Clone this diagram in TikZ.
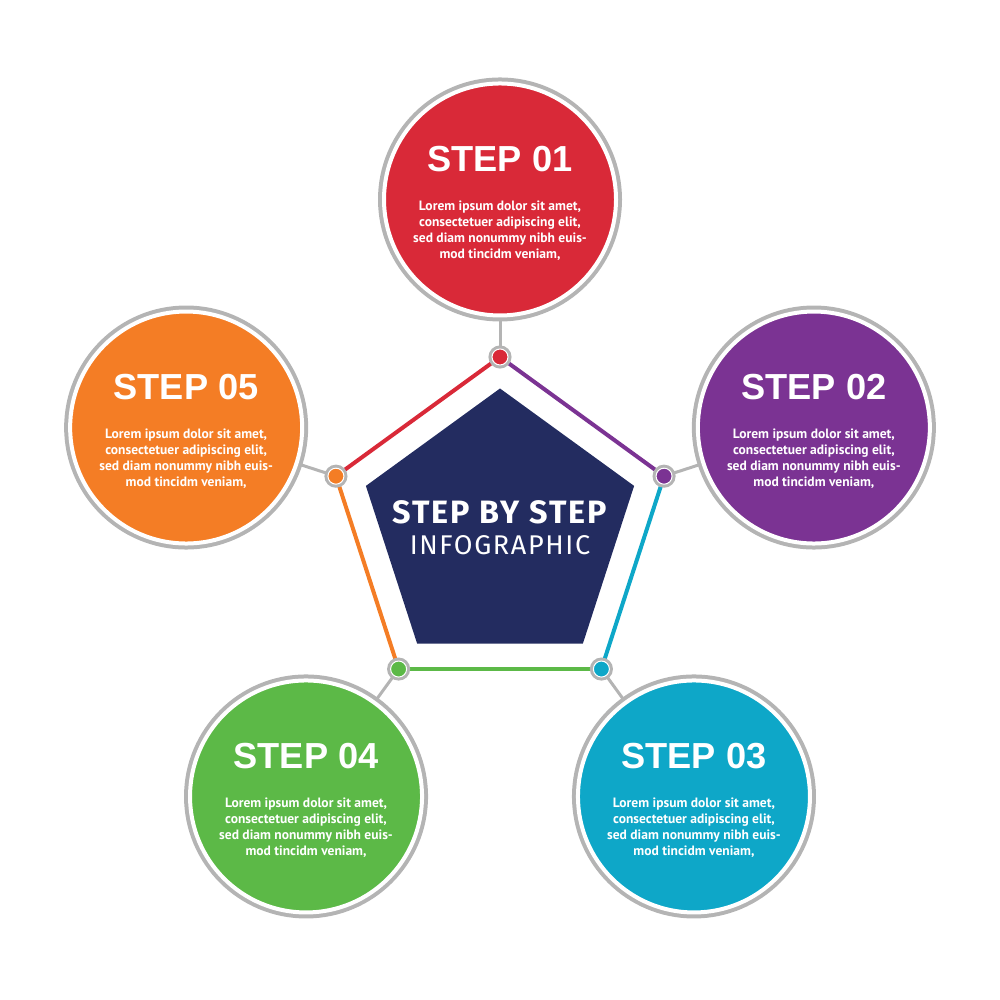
\documentclass[tikz,border=0pt]{standalone}
\usepackage{fontspec}
\usepackage{tikz}
\usetikzlibrary{shapes.geometric,backgrounds}
\setmainfont{Liberation Sans}
\newfontfamily\dinfont{PT Sans}
\newfontfamily\corefont[LetterSpace=6]{Fira Sans}

\definecolor{stepred}{RGB}{217,41,56}
\definecolor{steppurple}{RGB}{123,51,147}
\definecolor{stepcyan}{RGB}{14,167,200}
\definecolor{stepgreen}{RGB}{92,185,71}
\definecolor{steporange}{RGB}{244,125,37}
\definecolor{stepnavy}{RGB}{35,44,96}
\definecolor{ringgray}{RGB}{180,180,180}

\tikzset{
  stepcircle/.style={circle,inner sep=0,outer sep=0,minimum size=2.32cm,
    fill=#1,draw=white,line width=0.04cm,
    preaction={draw=ringgray,line width=0.12cm}},
  stepdot/.style={circle,inner sep=0,outer sep=0,minimum size=0.16cm,
    fill=#1,draw=white,line width=0.01cm,
    preaction={draw=ringgray,line width=0.07cm}},
  link/.style={draw=ringgray,line width=0.03cm},
  edge/.style={draw=#1,line width=0.04cm},
  steptitle/.style={text=white,anchor=base,inner sep=0,
    font=\fontsize{10.3}{12}\selectfont\bfseries},
  steptext/.style={text=white,align=center,inner sep=0,
    font=\dinfont\bfseries\fontsize{3.85}{4.55}\selectfont}
}

\begin{document}
\begin{tikzpicture}
\useasboundingbox (-5,-4.705) rectangle (5,5.295);

\node[regular polygon,regular polygon sides=5,fill=stepnavy,inner sep=0,
      minimum size=2.82cm] (core) at (0,0) {};
\node[text=white,anchor=base,inner sep=0,
      font=\corefont\bfseries\fontsize{9.2}{10}\selectfont] (head) at (0,0.055) {STEP BY STEP};
\node[text=white,anchor=base,inner sep=0,
      font=\corefont\fontsize{7.7}{9}\selectfont] (sub) at (0,-0.255) {INFOGRAPHIC};

\foreach \i/\ang/\col/\num in {1/90/stepred/01,2/18/steppurple/02,3/-54/stepcyan/03,
                               4/-126/stepgreen/04,5/162/steporange/05}{
  \node[stepdot=\col] (d\i) at (\ang:1.725) {};
  \node[stepcircle=\col] (c\i) at (\ang:3.3) {};
  \node[steptitle] (t\i) at ([yshift=0.28cm]c\i.center) {STEP \num};
  \node[steptext] (x\i) at ([yshift=-0.31cm]c\i.center)
    {Lorem ipsum dolor sit amet,\\consectetuer adipiscing elit,\\
     sed diam nonummy nibh euis-\\mod tincidm veniam,};
}

\begin{pgfonlayer}{background}
  \draw[edge=stepred] (d5.center) -- (d1.center);
  \draw[edge=steppurple] (d1.center) -- (d2.center);
  \draw[edge=stepcyan] (d2.center) -- (d3.center);
  \draw[edge=stepgreen] (d3.center) -- (d4.center);
  \draw[edge=steporange] (d4.center) -- (d5.center);
  \foreach \i in {1,...,5}
    \draw[link] (d\i.center) -- (c\i.center);
\end{pgfonlayer}
\end{tikzpicture}
\end{document}
